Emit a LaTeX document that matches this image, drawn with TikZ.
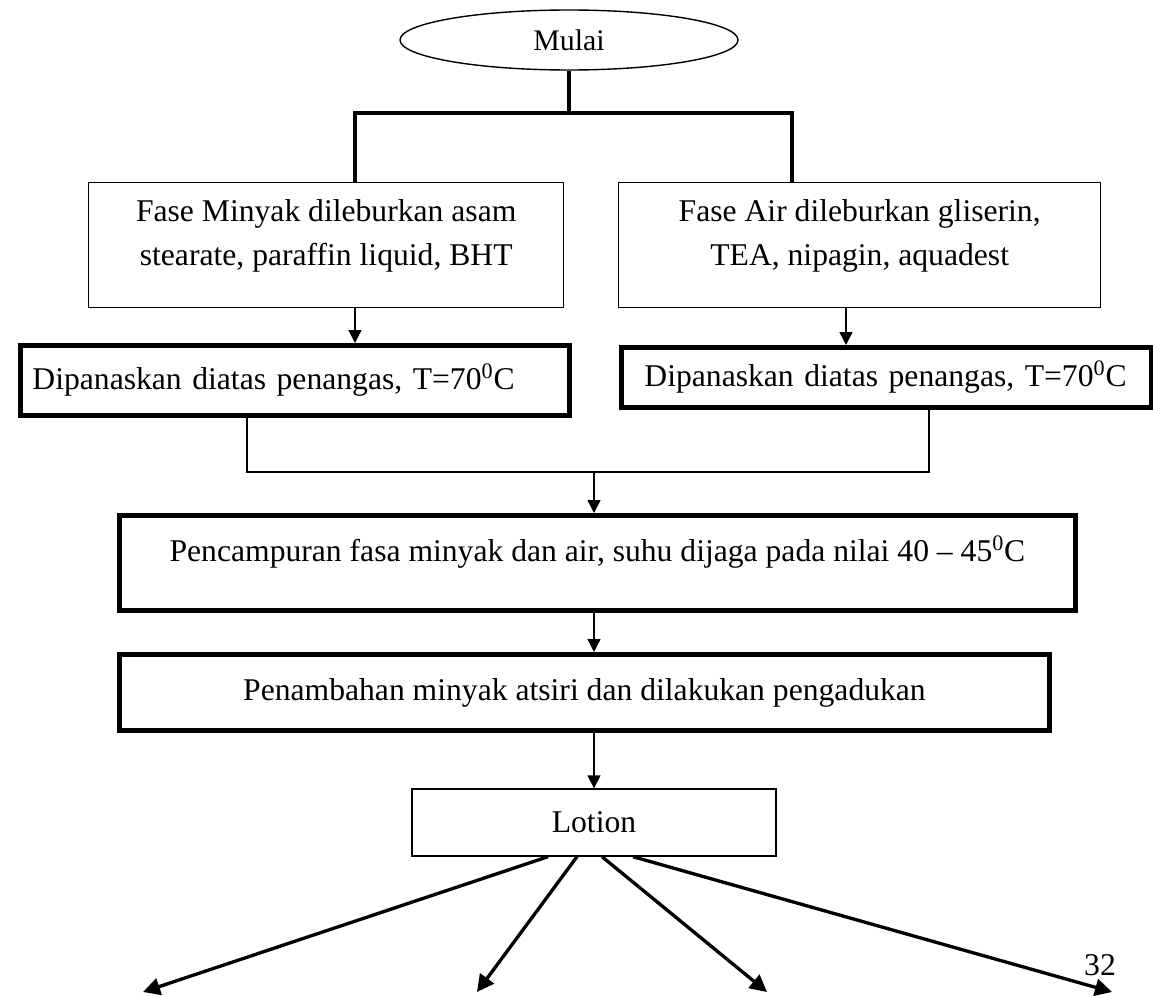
\documentclass[tikz,border=0pt]{standalone}
\usepackage{fontspec}
\setmainfont{Liberation Serif}
\usetikzlibrary{arrows.meta,shapes.geometric}

\tikzset{
  thinbox/.style={draw, line width=0.8pt, inner sep=0pt},
  thickbox/.style={draw, line width=2.8pt, inner sep=0pt},
  toptext/.style={anchor=north, yshift=-0.22cm, align=center},
  flow/.style={line width=0.8pt, -{Triangle[length=0.26cm,width=0.26cm]}},
  bold/.style={line width=2.3pt},
  boldflow/.style={line width=1.9pt, -{Triangle[length=0.34cm,width=0.34cm]}}
}

\begin{document}
\begin{tikzpicture}[font=\fontsize{18}{25.5}\selectfont]
  \useasboundingbox (0,0) rectangle (23.06,-19.92);

  % start
  \node[draw, ellipse, line width=0.8pt, inner sep=0pt, minimum width=6.76cm, minimum height=1.20cm,
    font=\fontsize{17}{20}\selectfont] (mulai) at (11.38,-0.80) {Mulai};
  \coordinate (bar) at (11.38,-2.26);
  \coordinate (barL) at (7.10,-2.26);
  \coordinate (barR) at (15.84,-2.26);
  \coordinate (downR) at (16.92,-2.26);

  % oil and water phase
  \node[thinbox, anchor=north west, minimum width=9.50cm, minimum height=2.50cm,
    label={[toptext]north:{Fase Minyak dileburkan asam\\stearate, paraffin liquid, BHT}}] (minyak) at (1.76,-3.64) {};
  \node[thinbox, anchor=north west, minimum width=9.64cm, minimum height=2.50cm,
    label={[toptext]north:{Fase Air dileburkan gliserin,\\TEA, nipagin, aquadest}}] (air) at (12.36,-3.64) {};

  % heating
  \node[thickbox, anchor=north west, minimum width=10.98cm, minimum height=1.40cm,
    inner xsep=0.24cm, text width=10.50cm, align=left] (panasL) at (0.36,-6.86)
    {Dipanaskan diatas penangas, T=70\textsuperscript{0}C};
  \node[thickbox, anchor=north west, minimum width=10.60cm, minimum height=1.20cm,
    inner xsep=0.46cm, text width=9.68cm, align=left] (panasR) at (12.38,-6.90)
    {Dipanaskan diatas penangas, T=70\textsuperscript{0}C};

  \coordinate (jL) at (4.94,-9.44);
  \coordinate (jR) at (18.58,-9.44);
  \coordinate (jM) at (11.88,-9.44);

  % mixing
  \node[thickbox, anchor=north west, minimum width=19.12cm, minimum height=1.90cm,
    label={[toptext, yshift=-0.12cm]north:{Pencampuran fasa minyak dan air, suhu dijaga pada nilai 40 -- 45\textsuperscript{0}C}}] (campur) at (2.34,-10.26) {};
  \node[thickbox, anchor=north west, minimum width=18.60cm, minimum height=1.52cm] (tambah) at (2.34,-13.04)
    {Penambahan minyak atsiri dan dilakukan pengadukan};
  \node[thinbox, minimum width=7.28cm, minimum height=1.34cm] (lotion) at (11.88,-16.45) {Lotion};

  \coordinate (out1) at (2.86,-19.84);
  \coordinate (out2) at (9.54,-19.84);
  \coordinate (out3) at (15.34,-19.84);
  \coordinate (out4) at (22.24,-19.84);
  \node (hal) at (22.00,-19.30) {32};

  % connectors
  \draw[bold] (mulai.south) -- (bar);
  \draw[bold] (barL |- minyak.north) -- (barL) -- (barR) -- (barR |- air.north);
  \draw[flow] (barL |- minyak.south) -- (barL |- panasL.north);
  \draw[flow] (downR |- air.south) -- (downR |- panasR.north);
  \draw[line width=1.4pt] (jL |- panasL.south) -- (jL) -- (jR) -- (jR |- panasR.south);
  \draw[flow] (jM) -- (jM |- campur.north);
  \draw[flow] (jM |- campur.south) -- (jM |- tambah.north);
  \draw[flow] (jM |- tambah.south) -- (lotion.north);
  \foreach \dx/\o in {-0.92/1, -0.34/2, 0.16/3, 0.78/4}
    \draw[boldflow] ([xshift=\dx cm]lotion.south) -- (out\o);
\end{tikzpicture}
\end{document}
